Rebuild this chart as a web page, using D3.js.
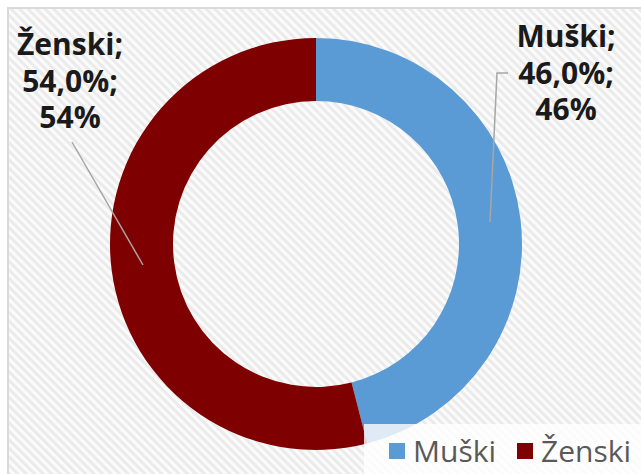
<!DOCTYPE html>
<html lang="en">
<head>
    <meta charset="utf-8">
    <title>Spol</title>
    <script src="https://d3js.org/d3.v7.min.js"></script>
    <style>
        body { margin: 0; background: #fff; }
    </style>
</head>
<body>
<div id="chart"></div>
<script>
    // Data
    const categories = ["Muški", "Ženski"];
    const shares = [46.0, 54.0];
    const colors = ["#5b9bd5", "#7f0000"];

    const width = 641, height = 474;

    const svg = d3.select("#chart")
        .append("svg")
        .attr("width", width)
        .attr("height", height);

    // Hatched background
    const defs = svg.append("defs");
    const pat = defs.append("pattern")
        .attr("id", "hatch")
        .attr("patternUnits", "userSpaceOnUse")
        .attr("width", 6)
        .attr("height", 6)
        .attr("patternTransform", "rotate(-45)");
    pat.append("rect").attr("width", 6).attr("height", 6).attr("fill", "#fbfbfb");
    pat.append("rect").attr("width", 3).attr("height", 6).attr("fill", "#ebebeb");

    svg.append("rect")
        .attr("x", 8).attr("y", 8)
        .attr("width", width).attr("height", height)
        .attr("fill", "url(#hatch)")
        .attr("stroke", "#d9d9d9")
        .attr("stroke-width", 2);

    // Donut
    const cx = 316, cy = 244, outerR = 206, innerR = 143;

    const pie = d3.pie().sort(null).value(d => d);
    const arc = d3.arc().innerRadius(innerR).outerRadius(outerR);

    const g = svg.append("g").attr("transform", `translate(${cx}, ${cy})`);
    g.selectAll("path")
        .data(pie(shares))
        .join("path")
        .attr("d", arc)
        .attr("fill", (d, i) => colors[i]);

    // Data labels with leader lines
    const fmt = v => v.toFixed(1).replace(".", ",") + "%";
    const labelPos = [
        {x: 566, y: 47, lead: [[508, 73], [497, 73], [490, 222]]},
        {x: 70, y: 55, lead: [[72, 142], [143, 265]]}
    ];

    labelPos.forEach((p, i) => {
        svg.append("path")
            .attr("d", d3.line()(p.lead))
            .attr("fill", "none")
            .attr("stroke", "#a6a6a6")
            .attr("stroke-width", 1.5);

        const lines = [categories[i] + ";", fmt(shares[i]) + ";", Math.round(shares[i]) + "%"];
        const t = svg.append("text")
            .attr("text-anchor", "middle")
            .attr("font-family", "'Open Sans', sans-serif")
            .attr("font-weight", "bold")
            .attr("font-size", 30)
            .attr("fill", "#1a1a1a");
        lines.forEach((s, k) => {
            t.append("tspan")
                .attr("x", p.x)
                .attr("y", p.y + k * 36.5)
                .text(s);
        });
    });

    // Legend
    svg.append("rect")
        .attr("x", 364).attr("y", 424)
        .attr("width", width - 364).attr("height", height - 424)
        .attr("fill", "#ffffff")
        .attr("opacity", 0.8);

    const legendX = [389, 517];
    categories.forEach((c, i) => {
        svg.append("rect")
            .attr("x", legendX[i]).attr("y", 443)
            .attr("width", 16).attr("height", 16)
            .attr("fill", colors[i]);
        svg.append("text")
            .attr("x", legendX[i] + 24)
            .attr("y", 462)
            .attr("font-family", "'Open Sans', sans-serif")
            .attr("font-size", 30)
            .attr("fill", "#595959")
            .text(c);
    });
</script>
</body>
</html>
